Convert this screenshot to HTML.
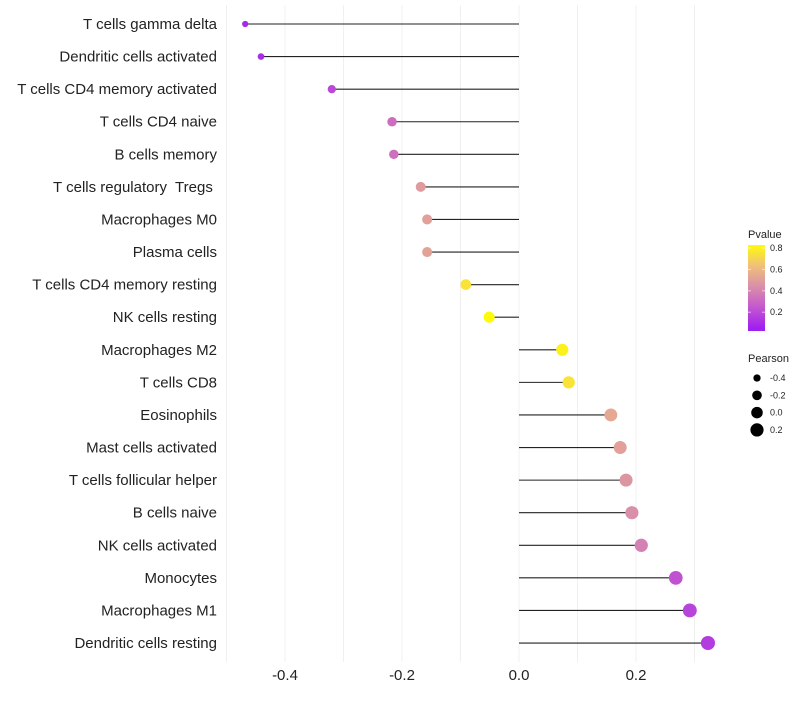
<!DOCTYPE html>
<html><head><meta charset="utf-8"><style>
body{margin:0;background:#fff;font-family:"Liberation Sans",sans-serif}
text{white-space:pre}
</style></head><body>
<svg id="chart" width="800" height="700" xmlns="http://www.w3.org/2000/svg" font-family="Liberation Sans, sans-serif"></svg>
<script>
const categories=["T cells gamma delta","Dendritic cells activated","T cells CD4 memory activated","T cells CD4 naive","B cells memory","T cells regulatory  Tregs ","Macrophages M0","Plasma cells","T cells CD4 memory resting","NK cells resting","Macrophages M2","T cells CD8","Eosinophils","Mast cells activated","T cells follicular helper","B cells naive","NK cells activated","Monocytes","Macrophages M1","Dendritic cells resting"];
const pearson=[-0.468,-0.441,-0.320,-0.217,-0.214,-0.168,-0.157,-0.157,-0.091,-0.051,0.074,0.085,0.157,0.173,0.183,0.193,0.209,0.268,0.292,0.323];
const pvalue=[0.03,0.05,0.15,0.28,0.29,0.45,0.47,0.48,0.72,0.82,0.77,0.72,0.50,0.47,0.43,0.40,0.35,0.18,0.13,0.10];
const xTicks=[-0.4,-0.2,0.0,0.2];
const xTickLabels=["-0.4","-0.2","0.0","0.2"];
const xGrid=[-0.5,-0.4,-0.3,-0.2,-0.1,0,0.1,0.2,0.3];
const pLegend=[0.8,0.6,0.4,0.2];
const sizeLegend=[-0.4,-0.2,0.0,0.2];

const svg=document.getElementById('chart');
const NS="http://www.w3.org/2000/svg";
function el(t,a,p){const e=document.createElementNS(NS,t);for(const k in a)e.setAttribute(k,a[k]);(p||svg).appendChild(e);return e;}
const x=v=>519+v*585;
const y=i=>24+i*32.58;
const rad=v=>1.1*Math.sqrt(Math.max(27.6+41.8*v,3));
const stops=[[0,[160,32,240]],[0.2,[196,87,207]],[0.4,[217,143,169]],[0.6,[240,192,122]],[0.8,[255,250,10]]];
function col(p){p=Math.max(0,Math.min(0.8,p));for(let i=0;i<stops.length-1;i++){const[a,ca]=stops[i],[b,cb]=stops[i+1];if(p<=b){const t=(p-a)/(b-a);return 'rgb('+ca.map((c,j)=>Math.round(c+(cb[j]-c)*t)).join(',')+')';}}return 'rgb(255,250,10)';}

xGrid.forEach(v=>{const g=el('line',{x1:x(v),x2:x(v),y1:5,y2:662,stroke:'#f0f0f0','stroke-width':1});

});

xTicks.forEach((v,i)=>{const t=el('text',{x:x(v),y:680,'text-anchor':'middle','font-size':15,fill:'#222'});t.textContent=xTickLabels[i];

});

categories.forEach((c,i)=>{
const t=el('text',{x:217,y:y(i)+5,'text-anchor':'end','font-size':15,fill:'#222'});t.textContent=c;


const l=el('line',{x1:x(0),x2:x(pearson[i]),y1:y(i),y2:y(i),stroke:'#222','stroke-width':1.1});


const d=el('circle',{cx:x(pearson[i]),cy:y(i),r:rad(pearson[i]),fill:col(pvalue[i])});


});

const lt=el('text',{x:748,y:238,'font-size':11,fill:'#222'});lt.textContent='Pvalue';


const defs=el('defs',{});const gr=el('linearGradient',{id:'pg',x1:0,y1:1,x2:0,y2:0},defs);
el('stop',{offset:0,'stop-color':col(0)},gr);
stops.forEach(s=>el('stop',{offset:(s[0]/0.8+0.035)/1.035,'stop-color':col(s[0])},gr));
const bar=el('rect',{x:748,y:245,width:17,height:86,fill:'url(#pg)'});


pLegend.forEach(p=>{const yy=248+(0.8-p)*107;
el('line',{x1:748,x2:751,y1:yy,y2:yy,stroke:'#fff','stroke-opacity':0.6});el('line',{x1:762,x2:765,y1:yy,y2:yy,stroke:'#fff','stroke-opacity':0.6});
const t=el('text',{x:770,y:yy+3,'font-size':9,fill:'#222'});t.textContent=p.toFixed(1);

});

const st=el('text',{x:748,y:362,'font-size':11,fill:'#222'});st.textContent='Pearson';


sizeLegend.forEach((v,i)=>{const yy=378+i*17.3;
const c=el('circle',{cx:757,cy:yy,r:rad(v),fill:'#000'});


const t=el('text',{x:770,y:yy+3,'font-size':9,fill:'#222'});t.textContent=v.toFixed(1);

});
</script>
</body></html>
